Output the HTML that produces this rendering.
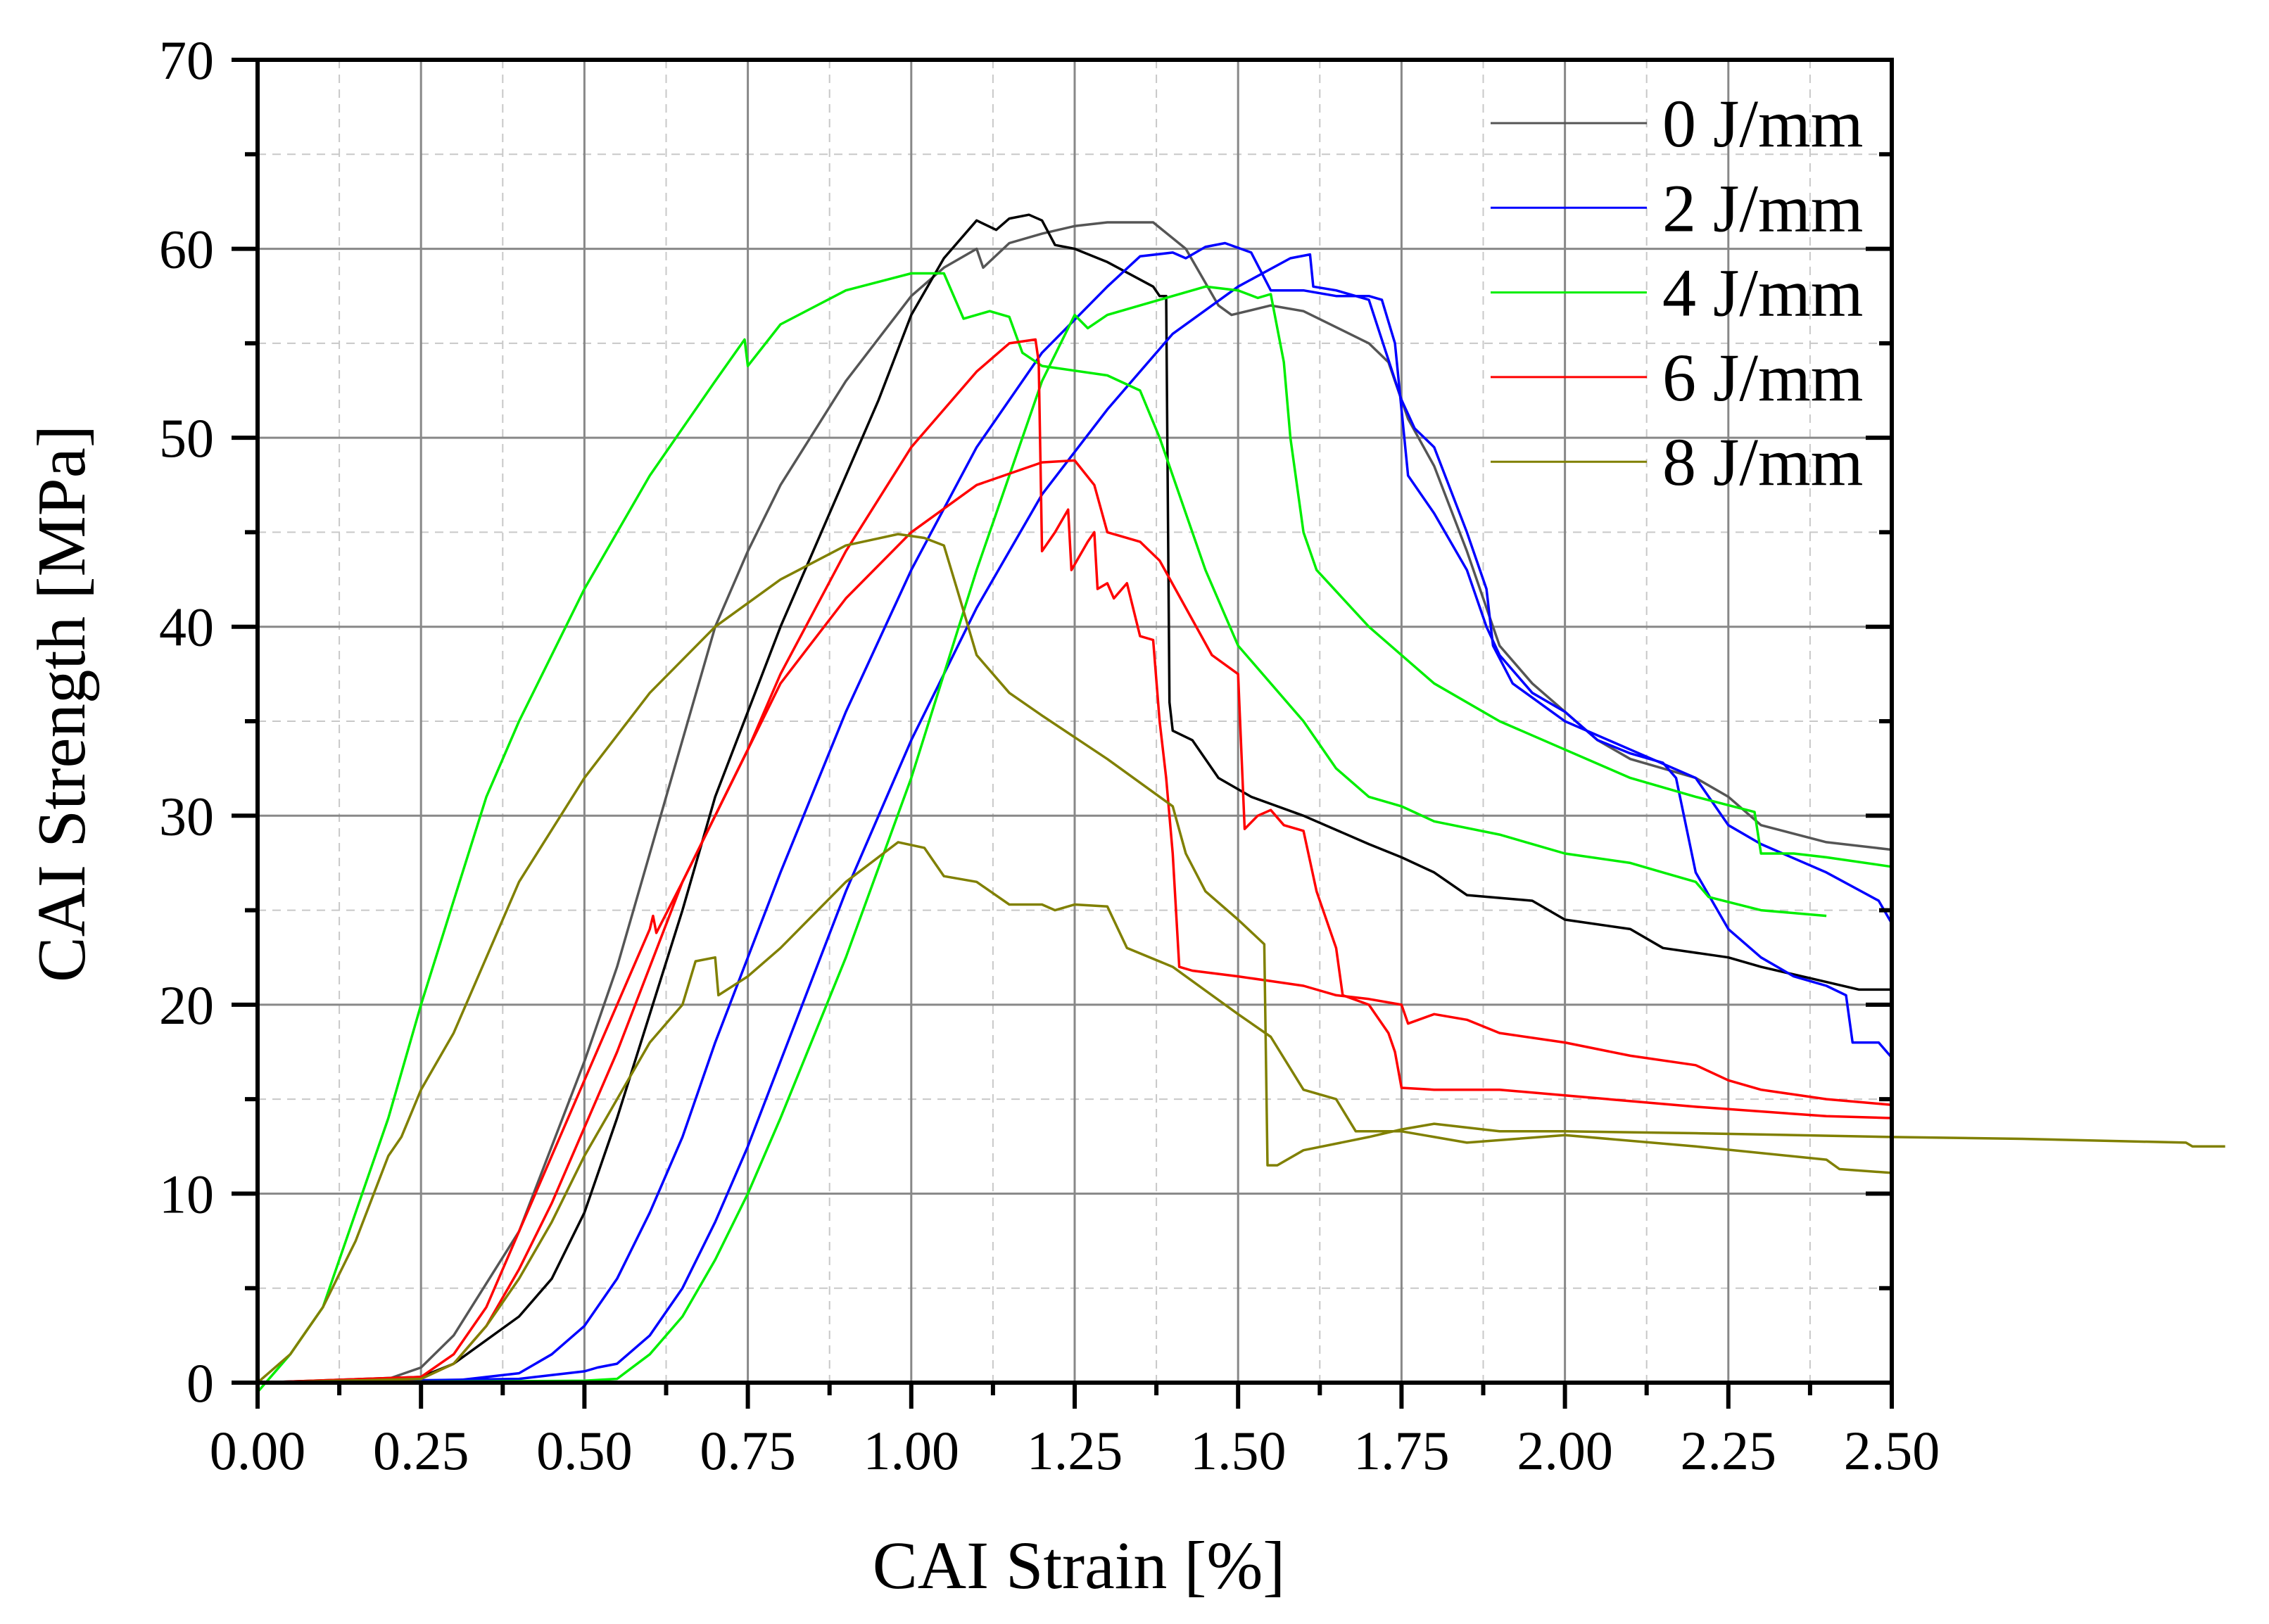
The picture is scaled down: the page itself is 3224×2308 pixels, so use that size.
<!DOCTYPE html>
<html><head><meta charset="utf-8"><style>
html,body{margin:0;padding:0;background:#fff;}
svg{display:block;font-family:"Liberation Serif",serif;}
</style></head><body>
<svg id="chart" width="3224" height="2308" viewBox="0 0 3224 2308" xmlns="http://www.w3.org/2000/svg">
<g id="grid"></g>
<g id="series"></g>
<g id="axes"></g>
<g id="legend"></g>
<text x="1533" y="2257" font-size="96" text-anchor="middle">CAI Strain [%]</text>
<text transform="translate(120,1000) rotate(-90)" font-size="97" text-anchor="middle">CAI Strength [MPa]</text>
</svg>
<script>
const xTicks=[0,0.25,0.5,0.75,1.0,1.25,1.5,1.75,2.0,2.25,2.5];
const xTickLabels=["0.00","0.25","0.50","0.75","1.00","1.25","1.50","1.75","2.00","2.25","2.50"];
const yTicks=[0,10,20,30,40,50,60,70];
const yTickLabels=["0","10","20","30","40","50","60","70"];
const legendLabels=["0 J/mm","2 J/mm","4 J/mm","6 J/mm","8 J/mm"];
const legendColors=["#555555","#0000ff","#00ee00","#ff0000","#808000"];

const gray0=[[0,0],[0.2,0.2],[0.25,0.8],[0.3,2.5],[0.4,8],[0.5,17],[0.55,22],[0.6,28],[0.65,34],[0.7,40],[0.75,44],[0.8,47.5],[0.9,53],[1.0,57.5],[1.05,59],[1.1,60],[1.11,59],[1.15,60.3],[1.2,60.8],[1.25,61.2],[1.3,61.4],[1.37,61.4],[1.42,60],[1.47,57],[1.49,56.5],[1.55,57],[1.6,56.7],[1.7,55],[1.73,54],[1.76,51],[1.8,48.5],[1.85,44],[1.9,39],[1.95,37],[2.0,35.5],[2.05,34],[2.1,33],[2.2,32],[2.25,31],[2.3,29.5],[2.4,28.6],[2.5,28.2]];
const black0=[[0,0],[0.25,0.3],[0.3,1],[0.4,3.5],[0.45,5.5],[0.5,9],[0.55,14],[0.6,19.5],[0.65,25],[0.7,31],[0.75,35.5],[0.8,40],[0.9,48],[0.95,52],[1.0,56.5],[1.05,59.5],[1.1,61.5],[1.13,61],[1.15,61.6],[1.18,61.8],[1.2,61.5],[1.22,60.2],[1.25,60],[1.3,59.3],[1.37,58],[1.38,57.5],[1.39,57.5],[1.395,36],[1.4,34.5],[1.43,34],[1.47,32],[1.52,31],[1.6,30],[1.7,28.5],[1.75,27.8],[1.8,27],[1.85,25.8],[1.95,25.5],[2.0,24.5],[2.1,24],[2.15,23],[2.25,22.5],[2.3,22],[2.4,21.2],[2.45,20.8],[2.5,20.8]];
const blue2a=[[0,0],[0.3,0.1],[0.4,0.5],[0.45,1.5],[0.5,3],[0.55,5.5],[0.6,9],[0.65,13],[0.7,18],[0.75,22.5],[0.8,27],[0.9,35.5],[1.0,43],[1.1,49.5],[1.2,54.5],[1.3,58],[1.35,59.6],[1.4,59.8],[1.42,59.5],[1.45,60.1],[1.48,60.3],[1.52,59.8],[1.55,57.8],[1.6,57.8],[1.65,57.5],[1.7,57.5],[1.72,57.3],[1.74,55],[1.76,48],[1.8,46],[1.85,43],[1.88,40],[1.9,38.5],[1.95,36.5],[2.0,35.5],[2.05,34],[2.1,33.3],[2.15,32.8],[2.17,32],[2.2,27],[2.25,24],[2.3,22.5],[2.35,21.5],[2.4,21],[2.43,20.5],[2.44,18],[2.48,18],[2.5,17.2]];
const blue2b=[[0,0],[0.4,0.2],[0.5,0.6],[0.52,0.8],[0.55,1],[0.6,2.5],[0.65,5],[0.7,8.5],[0.75,12.5],[0.8,17],[0.9,26],[1.0,34],[1.1,41],[1.2,47],[1.3,51.5],[1.4,55.5],[1.5,58],[1.58,59.5],[1.61,59.7],[1.615,58],[1.65,57.8],[1.7,57.3],[1.75,52],[1.77,50.5],[1.8,49.5],[1.85,45],[1.88,42],[1.89,39],[1.92,37],[2.0,35],[2.1,33.5],[2.2,32],[2.25,29.5],[2.3,28.5],[2.4,27],[2.48,25.5],[2.5,24.3]];
const green4a=[[0,-0.5],[0.05,1.5],[0.1,4],[0.15,9],[0.2,14],[0.25,20],[0.3,25.5],[0.35,31],[0.4,35],[0.5,42],[0.6,48],[0.7,53],[0.745,55.2],[0.75,53.8],[0.8,56],[0.9,57.8],[1.0,58.7],[1.05,58.7],[1.08,56.3],[1.12,56.7],[1.15,56.4],[1.17,54.5],[1.2,53.8],[1.3,53.3],[1.35,52.5],[1.38,50],[1.45,43],[1.5,39],[1.6,35],[1.65,32.5],[1.7,31],[1.75,30.5],[1.8,29.7],[1.9,29],[1.95,28.5],[2.0,28],[2.1,27.5],[2.15,27],[2.2,26.5],[2.22,25.7],[2.3,25],[2.4,24.7]];
const green4b=[[0,0],[0.5,0.1],[0.55,0.2],[0.6,1.5],[0.65,3.5],[0.7,6.5],[0.75,10],[0.8,14],[0.9,22.5],[1.0,32],[1.1,43],[1.15,48],[1.2,53],[1.25,56.5],[1.27,55.8],[1.3,56.5],[1.35,57],[1.4,57.5],[1.45,58],[1.5,57.8],[1.53,57.4],[1.55,57.6],[1.57,54],[1.58,50],[1.6,45],[1.62,43],[1.7,40],[1.8,37],[1.9,35],[2.0,33.5],[2.1,32],[2.2,31],[2.29,30.2],[2.3,28],[2.35,28],[2.4,27.8],[2.5,27.3]];
const red6a=[[0,0],[0.25,0.3],[0.3,1.5],[0.35,4],[0.4,8],[0.45,12],[0.5,16],[0.55,20],[0.6,24],[0.605,24.7],[0.61,23.8],[0.65,26.5],[0.7,30],[0.75,33.5],[0.8,37.5],[0.9,44],[1.0,49.5],[1.1,53.5],[1.15,55],[1.19,55.2],[1.195,54],[1.2,44],[1.22,45],[1.24,46.2],[1.245,43],[1.27,44.5],[1.28,45],[1.285,42],[1.3,42.3],[1.31,41.5],[1.33,42.3],[1.35,39.5],[1.37,39.3],[1.38,35],[1.39,32],[1.4,28],[1.41,22],[1.43,21.8],[1.5,21.5],[1.6,21],[1.65,20.5],[1.7,20.3],[1.75,20],[1.76,19],[1.8,19.5],[1.85,19.2],[1.9,18.5],[2.0,18],[2.1,17.3],[2.2,16.8],[2.25,16],[2.3,15.5],[2.4,15],[2.5,14.7]];
const red6b=[[0,0],[0.25,0.2],[0.3,1],[0.35,3],[0.4,6],[0.45,9.5],[0.5,13.5],[0.55,17.5],[0.6,22],[0.65,26.5],[0.7,30],[0.75,33.5],[0.8,37],[0.9,41.5],[1.0,45],[1.1,47.5],[1.2,48.7],[1.25,48.8],[1.28,47.5],[1.3,45],[1.35,44.5],[1.38,43.5],[1.42,41],[1.46,38.5],[1.5,37.5],[1.51,29.3],[1.53,30],[1.55,30.3],[1.57,29.5],[1.6,29.2],[1.62,26],[1.65,23],[1.66,20.5],[1.7,20],[1.73,18.5],[1.74,17.5],[1.75,15.6],[1.8,15.5],[1.9,15.5],[2.0,15.2],[2.2,14.6],[2.4,14.1],[2.5,14]];
const olive8a=[[0,0],[0.05,1.5],[0.1,4],[0.15,7.5],[0.2,12],[0.22,13],[0.25,15.5],[0.3,18.5],[0.35,22.5],[0.4,26.5],[0.5,32],[0.6,36.5],[0.7,40],[0.8,42.5],[0.9,44.3],[0.98,44.9],[1.02,44.7],[1.05,44.3],[1.07,42],[1.1,38.5],[1.15,36.5],[1.2,35.3],[1.3,33],[1.4,30.5],[1.42,28],[1.45,26],[1.5,24.5],[1.54,23.2],[1.545,11.5],[1.56,11.5],[1.6,12.3],[1.7,13],[1.75,13.4],[1.8,13.7],[1.9,13.3],[2.0,13.3],[2.2,13.2],[2.5,13],[2.7,12.9],[2.95,12.7],[2.96,12.5],[3.01,12.5]];
const olive8b=[[0,0],[0.25,0.2],[0.3,1],[0.35,3],[0.4,5.5],[0.45,8.5],[0.5,12],[0.55,15],[0.6,18],[0.65,20],[0.67,22.3],[0.7,22.5],[0.705,20.5],[0.75,21.5],[0.8,23],[0.9,26.5],[0.98,28.6],[1.02,28.3],[1.05,26.8],[1.1,26.5],[1.15,25.3],[1.2,25.3],[1.22,25],[1.25,25.3],[1.3,25.2],[1.33,23],[1.4,22],[1.5,19.5],[1.55,18.3],[1.6,15.5],[1.65,15],[1.68,13.3],[1.75,13.3],[1.85,12.7],[2.0,13.1],[2.2,12.5],[2.4,11.8],[2.42,11.3],[2.5,11.1]];

const X0=366,X1=2688,Y0=1965,Y1=85,XMAX=2.5,YMAX=70;
function sx(v){return X0+v/XMAX*(X1-X0);}
function sy(v){return Y0-v/YMAX*(Y0-Y1);}
const NS="http://www.w3.org/2000/svg";
function mk(tag,parent,attrs){const e=document.createElementNS(NS,tag);for(const k in attrs)e.setAttribute(k,attrs[k]);parent.appendChild(e);return e;}
const grid=document.getElementById('grid'),axes=document.getElementById('axes'),series=document.getElementById('series'),legend=document.getElementById('legend');

for(let i=0;i<xTicks.length-1;i++){const v=(xTicks[i]+xTicks[i+1])/2;
 const l=mk('line',grid,{x1:sx(v),x2:sx(v),y1:Y1,y2:Y0,stroke:'#c8c8c8','stroke-width':2,'stroke-dasharray':'12 9'});
 
 }
for(let i=0;i<yTicks.length-1;i++){const v=(yTicks[i]+yTicks[i+1])/2;
 const l=mk('line',grid,{x1:X0,x2:X1,y1:sy(v),y2:sy(v),stroke:'#c8c8c8','stroke-width':2,'stroke-dasharray':'12 9'});
 
 }
xTicks.forEach(v=>{const l=mk('line',grid,{x1:sx(v),x2:sx(v),y1:Y1,y2:Y0,stroke:'#888','stroke-width':3});
 
 });
yTicks.forEach(v=>{const l=mk('line',grid,{x1:X0,x2:X1,y1:sy(v),y2:sy(v),stroke:'#888','stroke-width':3});
 
 });

const allSeries=[[gray0,'#555555','series-0jmm-a'],[black0,'#000000','series-0jmm-b'],[blue2a,'#0000ff','series-2jmm-a'],[blue2b,'#0000ff','series-2jmm-b'],[green4a,'#00ee00','series-4jmm-a'],[green4b,'#00ee00','series-4jmm-b'],[red6a,'#ff0000','series-6jmm-a'],[red6b,'#ff0000','series-6jmm-b'],[olive8a,'#808000','series-8jmm-a'],[olive8b,'#808000','series-8jmm-b']];
allSeries.forEach(s=>{const d=s[0].map((p,i)=>(i?'L':'M')+sx(p[0]).toFixed(1)+' '+sy(p[1]).toFixed(1)).join(' ');
 const p=mk('path',series,{d:d,fill:'none',stroke:s[1],'stroke-width':3.5,'stroke-linejoin':'round'});
 
 });

const fr=mk('rect',axes,{x:X0,y:Y1,width:X1-X0,height:Y0-Y1,fill:'none',stroke:'#000','stroke-width':6});


xTicks.forEach((v,i)=>{const t=mk('line',axes,{x1:sx(v),x2:sx(v),y1:Y0,y2:Y0+37,stroke:'#000','stroke-width':6});
 
 
 const tx=mk('text',axes,{x:sx(v),y:2088,'font-size':78,'text-anchor':'middle'});tx.textContent=xTickLabels[i];
 
 
 if(i<xTicks.length-1){const m=(v+xTicks[i+1])/2;const mt=mk('line',axes,{x1:sx(m),x2:sx(m),y1:Y0,y2:Y0+18,stroke:'#000','stroke-width':6});
 
 }});
yTicks.forEach((v,i)=>{const t=mk('line',axes,{x1:X0-37,x2:X0,y1:sy(v),y2:sy(v),stroke:'#000','stroke-width':6});
 
 
 const rt=mk('line',axes,{x1:X1-37,x2:X1,y1:sy(v),y2:sy(v),stroke:'#000','stroke-width':6});
 
 
 const tx=mk('text',axes,{x:304,y:sy(v)+27,'font-size':78,'text-anchor':'end'});tx.textContent=yTickLabels[i];
 
 
 if(i<yTicks.length-1){const m=(v+yTicks[i+1])/2;
 const mt=mk('line',axes,{x1:X0-18,x2:X0,y1:sy(m),y2:sy(m),stroke:'#000','stroke-width':6});
 
 
 const mr=mk('line',axes,{x1:X1-18,x2:X1,y1:sy(m),y2:sy(m),stroke:'#000','stroke-width':6});
 
 }});

legendLabels.forEach((lab,i)=>{const y=175+i*120.3;
 const l=mk('line',legend,{x1:2118,x2:2340,y1:y,y2:y,stroke:legendColors[i],'stroke-width':3});
 
 
 const t=mk('text',legend,{x:2362,y:y+33,'font-size':96});t.textContent=lab;
 
 });
</script>
</body></html>
